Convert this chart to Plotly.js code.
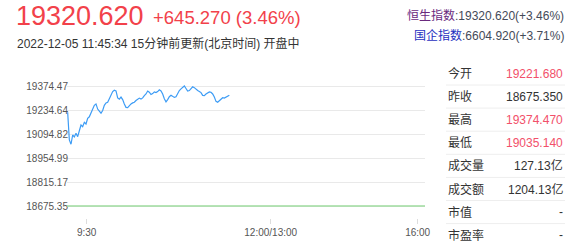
<!DOCTYPE html>
<html>
<head>
<meta charset="utf-8">
<script src="https://cdn.plot.ly/plotly-3.0.1.min.js"></script>
<style>
  html, body { margin: 0; padding: 0; background: #fff; }
  #chart { width: 575px; height: 246px; }
</style>
</head>
<body>
<div id="chart"></div>
<script>
// Hang Seng Index intraday, one sample per step from the open
const prices = [
  19221.68, 19059.9, 19035.14, 19089.0, 19078, 19098.7, 19079.3, 19108.4, 19147.3, 19137.6,
  19163, 19153, 19186, 19195, 19215, 19240, 19262, 19270, 19240, 19228,
  19216, 19232, 19262, 19276, 19280, 19300, 19325, 19342, 19350, 19346,
  19305, 19298, 19310, 19295, 19270, 19250, 19248, 19260, 19270, 19276,
  19280, 19290, 19295, 19304, 19298, 19305, 19318, 19328, 19345, 19338,
  19325, 19330, 19340, 19336, 19342, 19352, 19346, 19328, 19300, 19282,
  19295, 19312, 19320, 19315, 19308, 19312, 19335, 19348, 19358, 19368,
  19374.47, 19360, 19345, 19348, 19362, 19370, 19365, 19354, 19348, 19343,
  19336, 19320, 19318, 19328, 19334, 19340, 19338, 19328, 19310, 19285,
  19280, 19287, 19298, 19306, 19304, 19309, 19316, 19320.62
];

const openPrice = 19221.68;
const prevClose = 18675.35;
const highPrice = 19374.47;
const lowPrice = 19035.14;

const timeLabels = ['9:30', '12:00/13:00', '16:00'];

const updateTime = '2022-12-05 11:45:34 15分钟前更新(北京时间) 开盘中';

const indexNames = ['恒生指数', '国企指数'];
const indexValues = ['19320.620', '6604.920'];
const indexChanges = ['+3.46%', '+3.71%'];

const statLabels = ['今开', '昨收', '最高', '最低', '成交量', '成交额', '市值', '市盈率'];
const statValues = [openPrice.toFixed(3), prevClose.toFixed(3), highPrice.toFixed(3), lowPrice.toFixed(3),
                    '127.13亿', '1204.13亿', '-', '-'];

// ---- drawing ----
const RED = '#f2414a';
const STAT_RED = '#f2506a';
const FONT = 'Arial, "Liberation Sans", "Noto Sans CJK SC", sans-serif';

const L = 67, R = 425, T = 70, B = 218;
const px = x => (x - L) / (R - L);
const py = y => (B - y) / (B - T);

const last = prices[prices.length - 1];
const chg = last - prevClose;
const pct = chg / prevClose * 100;

const xs = prices.map((_, i) => i);

// y grid: five equal steps from the previous close up to the day's high
const yTicks = [];
for (let k = 0; k <= 5; k++) yTicks.push(prevClose + (highPrice - prevClose) * k / 5);
const trunc2 = v => (Math.floor(v * 100 + 1e-6) / 100).toFixed(2);

const annotations = [];
function label(x, y, text, size, color, anchor) {
  annotations.push({
    xref: 'paper', yref: 'paper', x: px(x), y: py(y),
    xanchor: anchor || 'left', yanchor: 'middle',
    text: text, showarrow: false,
    font: { family: FONT, size: size, color: color }
  });
}

label(14, 16, last.toFixed(3), 27, RED);
label(151, 17.5, (chg >= 0 ? '+' : '') + chg.toFixed(3) + ' (' + pct.toFixed(2) + '%)', 18.5, RED);
label(15, 43, updateTime, 12, '#333');

const idxColors = ['#6a2a7e', '#1f2fbf'];
indexNames.forEach((n, i) => {
  label(566, 16 + i * 19.5,
    '<span style="color:' + idxColors[i] + '">' + n + '</span>:' + indexValues[i] + '(' + indexChanges[i] + ')',
    12, '#444a58', 'right');
});

const redRows = [0, 2, 3];
const shapes = [{
  type: 'line', xref: 'paper', yref: 'y', x0: 0, x1: 1, y0: prevClose, y1: prevClose,
  line: { color: '#9edb9e', width: 1.5 }
}];
statLabels.forEach((s, i) => {
  const y = 73.5 + i * 23.1;
  label(446, y, s, 12, '#333');
  label(565, y, statValues[i], 12, redRows.includes(i) ? STAT_RED : '#333', 'right');
  if (i < statLabels.length - 1) {
    const ly = y + 11.5;
    shapes.push({
      type: 'line', xref: 'paper', yref: 'paper', x0: px(446), x1: px(565), y0: py(ly), y1: py(ly),
      line: { color: '#eeeeee', width: 1 }
    });
  }
});

const trace = {
  x: xs, y: prices, type: 'scatter', mode: 'lines',
  line: { color: '#3d9cf5', width: 1.2 },
  hoverinfo: 'skip'
};

const layout = {
  width: 575, height: 246,
  margin: { l: L, r: 575 - R, t: T, b: 246 - B, pad: 0 },
  paper_bgcolor: '#fff', plot_bgcolor: '#fff',
  showlegend: false,
  font: { family: FONT },
  xaxis: {
    range: [-0.4, 214.4],
    tickvals: [11.4, 121.8, 210], ticktext: timeLabels,
    ticks: 'outside', ticklen: 5, tickcolor: '#dddddd', tickwidth: 1,
    showgrid: false, zeroline: false, showline: false,
    tickfont: { size: 10, color: '#555', family: FONT }
  },
  yaxis: {
    range: [18605.44, 19467.69],
    tickvals: yTicks, ticktext: yTicks.map(trunc2),
    ticks: '', showline: false, zeroline: false,
    ticklabelstandoff: -2,
    gridcolor: '#e9e9e9', gridwidth: 1,
    tickfont: { size: 10, color: '#555', family: FONT }
  },
  shapes: shapes,
  annotations: annotations
};

Plotly.newPlot('chart', [trace], layout, { staticPlot: true, displayModeBar: false });
</script>
</body>
</html>
